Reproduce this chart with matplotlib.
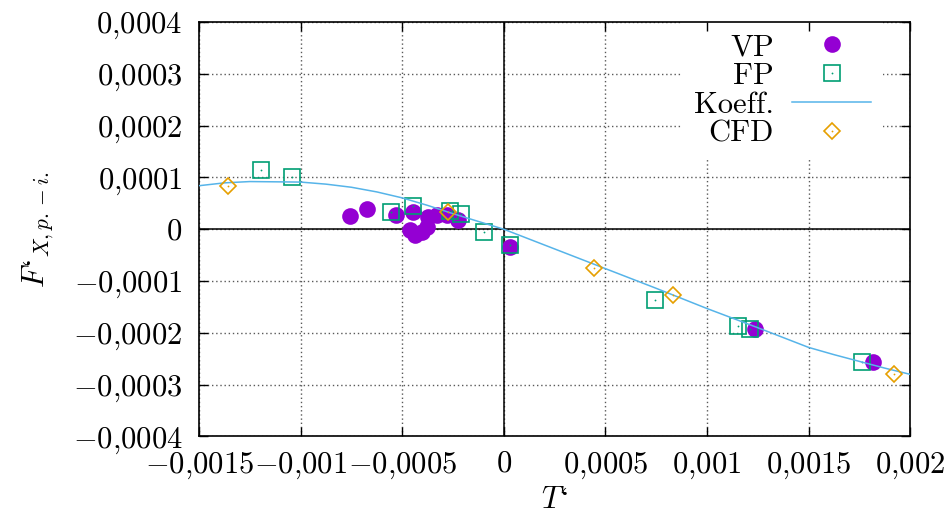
import numpy as np
import matplotlib
matplotlib.use("Agg")
import matplotlib.pyplot as plt

# VP measurements
vp_x = [-0.000756, -0.000674, -0.000531, -0.000448, -0.000461, -0.000437,
        -0.000404, -0.000379, -0.000371, -0.000330, -0.000281, -0.000223,
        0.000031, 0.001235, 0.001819]
vp_y = [2.6e-5, 3.9e-5, 2.8e-5, 3.3e-5, -0.1e-5, -1.1e-5,
        -0.5e-5, 0.5e-5, 2.4e-5, 2.8e-5, 2.8e-5, 1.8e-5,
        -3.4e-5, -1.93e-4, -2.556e-4]

# FP measurements
fp_x = [-0.001194, -0.001043, -0.000555, -0.000448, -0.000264, -0.000210,
        -0.000097, 0.000031, 0.000743, 0.001152, 0.001212, 0.001762]
fp_y = [1.145e-4, 1.015e-4, 3.3e-5, 4.4e-5, 3.5e-5, 2.9e-5,
        -0.5e-5, -3.0e-5, -1.365e-4, -1.867e-4, -1.925e-4, -2.568e-4]

# coefficient model
koeff_x = [-0.0015, -0.001375, -0.00125, -0.001, -0.000875, -0.00075,
           -0.000625, -0.0005, -0.000375, -0.00025, -0.000125, 0.0,
           0.00025, 0.0005, 0.00075, 0.001, 0.00125, 0.0015,
           0.001625, 0.00175, 0.001875, 0.002]
koeff_y = [8.4e-5, 8.95e-5, 9.2e-5, 9.1e-5, 8.7e-5, 8.1e-5,
           7.2e-5, 6.05e-5, 4.6e-5, 3.0e-5, 1.5e-5, 0.0,
           -3.8e-5, -7.6e-5, -1.14e-4, -1.53e-4, -1.90e-4, -2.28e-4,
           -2.42e-4, -2.55e-4, -2.68e-4, -2.80e-4]

# CFD results
cfd_x = [-0.001356, -0.000273, 0.000443, 0.000835, 0.001921]
cfd_y = [8.4e-5, 3.3e-5, -7.4e-5, -1.268e-4, -2.787e-4]

xticks = [-0.0015, -0.001, -0.0005, 0, 0.0005, 0.001, 0.0015, 0.002]
xticklabels = [r"$-0{,}0015$", r"$-0{,}001$", r"$-0{,}0005$", r"$0$",
               r"$0{,}0005$", r"$0{,}001$", r"$0{,}0015$", r"$0{,}002$"]
yticks = [-0.0004, -0.0003, -0.0002, -0.0001, 0, 0.0001, 0.0002, 0.0003, 0.0004]
yticklabels = [r"$-0{,}0004$", r"$-0{,}0003$", r"$-0{,}0002$", r"$-0{,}0001$", r"$0$",
               r"$0{,}0001$", r"$0{,}0002$", r"$0{,}0003$", r"$0{,}0004$"]

plt.rcParams["font.family"] = ["cmr10"]
plt.rcParams["mathtext.fontset"] = "cm"
plt.rcParams["axes.formatter.use_mathtext"] = True
plt.rcParams["font.size"] = 22

fig = plt.figure(figsize=(9.48, 5.23), dpi=100)
ax = fig.add_axes([0.21, 0.1654, 0.75, 0.7926])

# grid and zero axes drawn by hand so the legend can sit over them
for xv in xticks:
    ax.axvline(xv, color="0.35", lw=1, ls=(0, (1, 2)), zorder=0.5)
for yv in yticks:
    ax.axhline(yv, color="0.35", lw=1, ls=(0, (1, 2)), zorder=0.5)
ax.axhline(0, color="black", lw=1.1, zorder=0.7)
ax.axvline(0, color="black", lw=1.1, zorder=0.7)

vp, = ax.plot(vp_x, vp_y, ls="none", marker="o", ms=12, color="#9400d3",
              mec="none", zorder=2)
fp, = ax.plot(fp_x, fp_y, ls="none", marker="s", ms=12, mfc="none",
              mec="#009e73", mew=1.2, zorder=3)
fp_dot, = ax.plot(fp_x, fp_y, ls="none", marker="o", ms=1.3, color="#009e73",
                  mec="none", zorder=3)
kf, = ax.plot(koeff_x, koeff_y, color="#56b4e9", lw=1.1, zorder=4)
cfd, = ax.plot(cfd_x, cfd_y, ls="none", marker="D", ms=8.5, mfc="none",
               mec="#e69f00", mew=1.2, zorder=5)
cfd_dot, = ax.plot(cfd_x, cfd_y, ls="none", marker="o", ms=1.3, color="#e69f00",
                   mec="none", zorder=5)

ax.set_xlim(-0.0015, 0.002)
ax.set_ylim(-0.0004, 0.0004)
ax.set_xticks(xticks)
ax.set_xticklabels(xticklabels)
ax.set_yticks(yticks)
ax.set_yticklabels(yticklabels)
ax.tick_params(direction="in", length=6.5, width=1, top=True, right=True,
               labelsize=22)
ax.tick_params(axis="y", pad=12)
ax.tick_params(axis="x", pad=10)
ax.minorticks_off()
for s in ax.spines.values():
    s.set_linewidth(1.2)
ax.set_axisbelow(False)

# left quote inside math mode falls back to the STIX glyph
ax.set_xlabel("$T\u2018$", fontsize=22, labelpad=4)
ax.set_ylabel("$F\u2018_{X,p.-i.}$", fontsize=22, labelpad=12)

leg = ax.legend([vp, (fp, fp_dot), kf, (cfd, cfd_dot)],
                ["VP", "FP", "Koeff.", "CFD"],
                loc="upper right", bbox_to_anchor=(0.962, 1.0),
                markerfirst=False, frameon=True, fancybox=False,
                facecolor="white", edgecolor="none", framealpha=1,
                borderpad=0.38, borderaxespad=0, labelspacing=0.05,
                handlelength=2.6, handletextpad=0.6, fontsize=22)
leg.set_zorder(1)

fig.savefig("out.png", dpi=100)
